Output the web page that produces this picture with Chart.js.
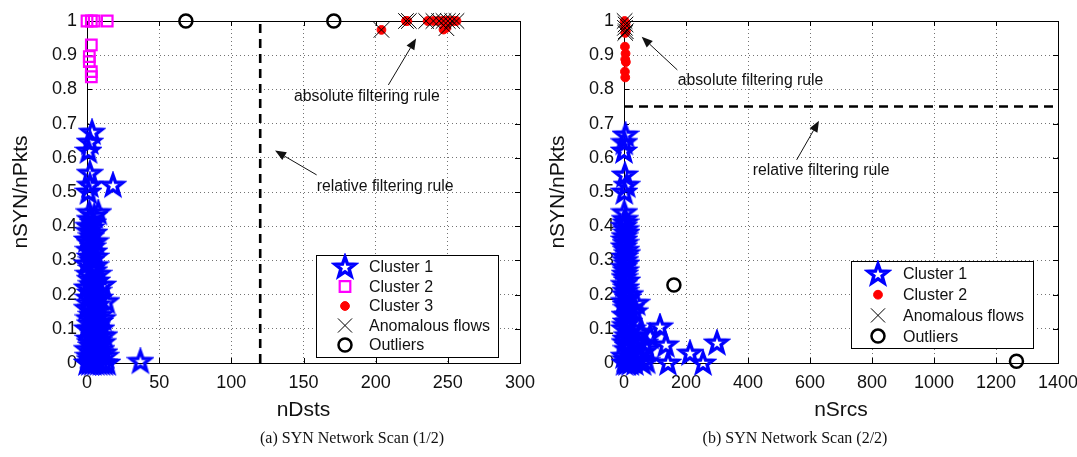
<!DOCTYPE html>
<html>
<head>
<meta charset="utf-8">
<script src="https://cdn.jsdelivr.net/npm/chart.js@4.4.0/dist/chart.umd.min.js"></script>
<style>
    body { margin: 0; background: #ffffff; }
    #wrap { position: relative; width: 1077px; height: 457px; overflow: hidden; }
    .panel { position: absolute; top: 0; height: 457px; }
    #panel-a { left: 0; width: 537px; }
    #panel-b { left: 537px; width: 540px; }
    .caption {
        position: absolute; top: 428px; line-height: 20px;
        font-family: "Liberation Serif", "Times New Roman", serif; font-size: 16px;
        color: #111; transform: translateX(-50%); white-space: nowrap;
    }
</style>
</head>
<body>
<div id="wrap">
    <div class="panel" id="panel-a"><canvas id="scan-a"></canvas></div>
    <div class="panel" id="panel-b"><canvas id="scan-b"></canvas></div>
    <div class="caption" style="left:352px">(a) SYN Network Scan (1/2)</div>
    <div class="caption" style="left:795px">(b) SYN Network Scan (2/2)</div>
</div>
<script>
// tick labels
const dstTicks = ['0', '50', '100', '150', '200', '250', '300'];
const srcTicks = ['0', '200', '400', '600', '800', '1000', '1200', '1400'];
const ratioTicks = ['0', '0.1', '0.2', '0.3', '0.4', '0.5', '0.6', '0.7', '0.8', '0.9', '1'];

const legendA = ['Cluster 1', 'Cluster 2', 'Cluster 3', 'Anomalous flows', 'Outliers'];
const legendB = ['Cluster 1', 'Cluster 2', 'Anomalous flows', 'Outliers'];

// filtering rules
const dstThreshold = 120;
const ratioThreshold = 0.75;

// (a) nDsts vs nSYN/nPkts   [x, y]
const scanACluster1 = [
    [0, 0], [2, 0], [4, 0], [6, 0], [8, 0], [10, 0], [12, 0], [14, 0], [37, 0.005],
    [2, 0.01], [6, 0.03], [10, 0.04], [12, 0.03],
    [1, 0.02], [5, 0.02], [9, 0.03], [13, 0.02],
    [0, 0.04], [3, 0.05], [7, 0.05], [11, 0.06],
    [2, 0.06], [8, 0.065], [4, 0.09], [12, 0.08],
    [1, 0.07], [5, 0.08], [9, 0.08],
    [0, 0.1], [3, 0.1], [7, 0.11], [10, 0.1],
    [2, 0.115], [6, 0.12], [9, 0.12], [3, 0.14], [7, 0.15], [11, 0.13],
    [1, 0.13], [5, 0.13], [9, 0.14],
    [0, 0.16], [3, 0.16], [7, 0.17],
    [1, 0.175], [5, 0.18], [9, 0.19], [2, 0.205], [8, 0.21], [5, 0.225],
    [1, 0.19], [5, 0.2], [13.5, 0.18], [11, 0.228],
    [0, 0.22], [3, 0.23], [7, 0.24],
    [2, 0.245], [8, 0.26], [3, 0.275], [6, 0.285],
    [1, 0.26], [5, 0.27],
    [0, 0.29], [3, 0.3], [6, 0.31],
    [2, 0.31], [5, 0.325], [2, 0.35], [6, 0.355],
    [1, 0.33], [4, 0.34],
    [0, 0.36], [3, 0.37], [5, 0.38],
    [1, 0.385], [3, 0.395], [2, 0.42], [5, 0.43],
    [1, 0.4], [4, 0.41],
    [1.6, 0.44], [7.8, 0.44],
    [1, 0.5], [2, 0.52], [18, 0.52], [2, 0.555], [1, 0.62], [2, 0.646], [3.5, 0.675]
];
const scanACluster2 = [
    [0, 1], [3, 1], [5, 1], [14, 1],
    [3, 0.93], [1.6, 0.896], [1.6, 0.881], [3, 0.852], [3, 0.837]
];
const scanACluster3 = [
    [204, 0.974], [221, 1], [222, 1], [236, 1], [240, 1], [243, 1], [246, 1],
    [248, 1], [250, 1], [252, 1], [254, 1], [256, 1], [249, 0.98], [247, 0.975]
];
const scanAAnomalous = [
    [204, 0.974], [221, 1], [223, 1], [235, 1], [240, 1], [244, 1], [247, 1],
    [250, 1], [253, 1], [256, 1], [249, 0.979]
];
const scanAOutliers = [[68.5, 1], [171, 1]];

// (b) nSrcs vs nSYN/nPkts   [x, y]
const scanBCluster1 = [
    [2, 0], [10, 0], [20, 0], [35, 0], [50, 0.01], [73, 0.005], [57, 0.03], [74, 0.04],
    [30, 0.01], [45, 0.02], [60, 0], [15, 0.06], [25, 0.08], [4, 0.01], [12, 0.05],
    [68, 0.058], [84, 0.078], [52, 0.088], [57, 0.09], [25, 0.03], [40, 0.06],
    [142, 0], [135, 0.053], [116, 0.106], [213, 0.029], [255, 0], [300, 0.059],
    [0, 0.02], [8, 0.04], [2, 0.06], [10, 0.08], [0, 0.1], [6, 0.12], [15, 0.12],
    [5, 0.07], [28, 0.1], [3, 0.11], [12, 0.14], [22, 0.16], [5, 0.17], [12, 0.19],
    [2, 0.14], [35, 0.15], [41, 0.175], [8, 0.16], [0, 0.18], [20, 0.2], [5, 0.21],
    [3, 0.2], [7, 0.22], [2, 0.25], [6, 0.27], [4, 0.3], [7, 0.33], [1, 0.36],
    [0, 0.23], [10, 0.24], [3, 0.26], [0, 0.28], [8, 0.29], [2, 0.31], [10, 0.32],
    [0, 0.34], [5, 0.35], [2, 0.37], [8, 0.38], [0, 0.4], [5, 0.41], [1, 0.44],
    [6, 0.39], [3, 0.42],
    [1, 0.5], [9, 0.52], [3, 0.55], [0, 0.62], [1, 0.645], [5, 0.667]
];
const scanBCluster2 = [
    [3, 0.925], [5, 0.905], [4, 0.888], [6, 0.88], [3, 0.852], [4, 0.835],
    [2, 1], [5, 0.99], [3, 0.98], [6, 0.97], [4, 0.965]
];
const scanBAnomalous = [[2, 1], [5, 0.99], [3, 0.98], [6, 0.97], [4, 0.965]];
const scanBOutliers = [[161, 0.228], [1266, 0.005]];

// annotation text + arrow (tail -> head), in data units
const notesA = [
    { text: 'absolute filtering rule', x: 143.4, y: 0.779, tx: 208.8, ty: 0.813, hx: 228, hy: 0.949 },
    { text: 'relative filtering rule', x: 159.1, y: 0.515, tx: 159.1, ty: 0.55, hx: 130.3, hy: 0.621 }
];
const notesB = [
    { text: 'absolute filtering rule', x: 173, y: 0.827, tx: 172, ty: 0.857, hx: 57, hy: 0.954 },
    { text: 'relative filtering rule', x: 415, y: 0.562, tx: 557, ty: 0.594, hx: 629, hy: 0.708 }
];

const FONT = '"Liberation Sans", Arial, Helvetica, sans-serif';

function pts(list) {
    return list.map(p => ({ x: p[0], y: p[1] }));
}

function makeStar() {
    let c = document.createElement('canvas');
    c.width = 28;
    c.height = 28;
    let ctx = c.getContext('2d');
    ctx.beginPath();
    for (let i = 0; i < 10; i++) {
        let r = (i % 2 == 0) ? 10.5 : 4.3;
        let a = -Math.PI / 2 + i * Math.PI / 5;
        let px = 14 + r * Math.cos(a);
        let py = 14.5 + r * Math.sin(a);
        if (i == 0) ctx.moveTo(px, py); else ctx.lineTo(px, py);
    }
    ctx.closePath();
    ctx.strokeStyle = '#0000ff';
    ctx.lineWidth = 3.4;
    ctx.lineJoin = 'miter';
    ctx.miterLimit = 3;
    ctx.stroke();
    return c;
}
const starImg = makeStar();

// axes box, inward tick marks
const boxPlugin = {
    id: 'matlabBox',
    beforeDatasetsDraw(chart) {
        let ctx = chart.ctx;
        let a = chart.chartArea;
        ctx.save();
        ctx.strokeStyle = '#000';
        ctx.lineWidth = 1;
        ctx.setLineDash([]);
        ctx.beginPath();
        chart.scales.x.ticks.forEach(t => {
            let px = Math.round(chart.scales.x.getPixelForValue(t.value)) + 0.5;
            ctx.moveTo(px, a.bottom); ctx.lineTo(px, a.bottom - 5);
            ctx.moveTo(px, a.top); ctx.lineTo(px, a.top + 5);
        });
        chart.scales.y.ticks.forEach(t => {
            let py = Math.round(chart.scales.y.getPixelForValue(t.value)) + 0.5;
            ctx.moveTo(a.left, py); ctx.lineTo(a.left + 5, py);
            ctx.moveTo(a.right, py); ctx.lineTo(a.right - 5, py);
        });
        ctx.stroke();
        ctx.strokeRect(Math.round(a.left) + 0.5, Math.round(a.top) + 0.5,
            Math.round(a.width), Math.round(a.height));
        ctx.restore();
    }
};

// arrows and text labels
const notesPlugin = {
    id: 'ruleNotes',
    afterDatasetsDraw(chart, args, opts) {
        let ctx = chart.ctx;
        let xs = chart.scales.x, ys = chart.scales.y;
        ctx.save();
        ctx.fillStyle = '#111';
        ctx.strokeStyle = '#111';
        ctx.lineWidth = 1;
        ctx.font = '15.8px ' + FONT;
        ctx.textBaseline = 'middle';
        ctx.textAlign = 'left';
        (opts.notes || []).forEach(n => {
            ctx.fillText(n.text, xs.getPixelForValue(n.x), ys.getPixelForValue(n.y));
            let x0 = xs.getPixelForValue(n.tx), y0 = ys.getPixelForValue(n.ty);
            let x1 = xs.getPixelForValue(n.hx), y1 = ys.getPixelForValue(n.hy);
            let ang = Math.atan2(y1 - y0, x1 - x0);
            let len = 11, half = 4.5;
            let bx = x1 - len * Math.cos(ang), by = y1 - len * Math.sin(ang);
            ctx.beginPath();
            ctx.moveTo(x0, y0);
            ctx.lineTo(bx, by);
            ctx.stroke();
            ctx.beginPath();
            ctx.moveTo(x1, y1);
            ctx.lineTo(bx + half * Math.sin(ang), by - half * Math.cos(ang));
            ctx.lineTo(bx - half * Math.sin(ang), by + half * Math.cos(ang));
            ctx.closePath();
            ctx.fill();
        });
        ctx.restore();
    }
};

// legend box inside the plot
const legendPlugin = {
    id: 'boxLegend',
    afterDraw(chart, args, opts) {
        let ctx = chart.ctx;
        ctx.save();
        ctx.fillStyle = '#fff';
        ctx.fillRect(opts.left, opts.top, opts.width, opts.height);
        ctx.strokeStyle = '#000';
        ctx.lineWidth = 1;
        ctx.setLineDash([]);
        ctx.strokeRect(opts.left + 0.5, opts.top + 0.5, opts.width, opts.height);
        ctx.font = '16px ' + FONT;
        ctx.textBaseline = 'middle';
        ctx.textAlign = 'left';
        opts.items.forEach((di, i) => {
            let ds = chart.data.datasets[di];
            let y = opts.top + opts.first + i * opts.step;
            let mx = opts.left + opts.markerX;
            ctx.save();
            ctx.strokeStyle = ds.borderColor;
            ctx.fillStyle = ds.backgroundColor;
            ctx.lineWidth = ds.borderWidth;
            Chart.helpers.drawPoint(ctx, {
                pointStyle: ds.pointStyle,
                radius: ds.legendRadius || ds.pointRadius,
                borderWidth: ds.borderWidth,
                rotation: 0
            }, mx, y);
            ctx.restore();
            ctx.fillStyle = '#111';
            ctx.fillText(ds.label, opts.left + opts.textX, y + 1);
        });
        ctx.restore();
    }
};

function scatterSet(label, data, style, order) {
    return Object.assign({
        label: label,
        data: pts(data),
        showLine: false,
        clip: false,
        order: order
    }, style);
}

function starStyle() {
    return { pointStyle: starImg, pointRadius: 10, borderColor: '#0000ff', backgroundColor: '#0000ff', borderWidth: 0 };
}
function squareStyle() {
    return { pointStyle: 'rect', pointRadius: 7.5, borderColor: '#ff00ff', backgroundColor: 'rgba(0,0,0,0)', borderWidth: 2.2 };
}
function dotStyle() {
    return { pointStyle: 'circle', pointRadius: 4.4, borderColor: '#ff0000', backgroundColor: '#ff0000', borderWidth: 1 };
}
function crossStyle() {
    return { pointStyle: 'crossRot', pointRadius: 11, borderColor: '#000', backgroundColor: '#000', borderWidth: 1, legendRadius: 10 };
}
function ringStyle() {
    return { pointStyle: 'circle', pointRadius: 6.5, borderColor: '#000', backgroundColor: 'rgba(0,0,0,0)', borderWidth: 2.5 };
}

function ruleLine(data) {
    return {
        label: 'rule',
        data: pts(data),
        showLine: true,
        pointRadius: 0,
        borderColor: '#000',
        borderWidth: 2.6,
        borderDash: [9, 6],
        clip: false,
        order: 6
    };
}

function makeScales(xTitle, xMax, xStep, xLabels) {
    let gridOpts = { color: 'rgba(0,0,0,0.55)', lineWidth: 1, drawTicks: false, borderDash: [1, 3] };
    let borderOpts = { display: true, color: '#000', width: 1, dash: [1, 3] };
    return {
        x: {
            type: 'linear', min: 0, max: xMax,
            ticks: {
                stepSize: xStep, autoSkip: false, maxRotation: 0, padding: 9, color: '#111',
                font: { family: FONT, size: 18 },
                callback: (v, i) => xLabels[i]
            },
            grid: gridOpts,
            border: borderOpts,
            title: { display: true, text: xTitle, color: '#111', font: { family: FONT, size: 21 }, padding: { top: 0, bottom: 34 } },
            afterFit: s => { s.height = 94; s.paddingLeft = 0; s.paddingRight = 0; }
        },
        y: {
            type: 'linear', min: 0, max: 1,
            ticks: {
                stepSize: 0.1, autoSkip: false, padding: 10, color: '#111',
                font: { family: FONT, size: 18 },
                callback: (v, i) => ratioTicks[i]
            },
            grid: gridOpts,
            border: borderOpts,
            title: { display: true, text: 'nSYN/nPkts', color: '#111', font: { family: FONT, size: 21 }, padding: { top: 9, bottom: 0 } },
            afterFit: s => { s.width = 87; s.paddingTop = 0; s.paddingBottom = 0; }
        }
    };
}

function makeChart(canvas, datasets, scales, padRight, notes, legend) {
    return new Chart(canvas, {
        type: 'scatter',
        data: { datasets: datasets },
        options: {
            responsive: true,
            maintainAspectRatio: false,
            animation: false,
            events: [],
            layout: { padding: { top: 21, right: padRight, left: 0, bottom: 0 } },
            scales: scales,
            plugins: {
                legend: { display: false },
                tooltip: { enabled: false },
                ruleNotes: { notes: notes },
                boxLegend: legend
            }
        },
        plugins: [boxPlugin, notesPlugin, legendPlugin]
    });
}

let chartA = makeChart(
    document.getElementById('scan-a'),
    [
        scatterSet(legendA[0], scanACluster1, starStyle(), 4),
        scatterSet(legendA[1], scanACluster2, squareStyle(), 3),
        scatterSet(legendA[2], scanACluster3, dotStyle(), 2),
        scatterSet(legendA[3], scanAAnomalous, crossStyle(), 1),
        scatterSet(legendA[4], scanAOutliers, ringStyle(), 0),
        ruleLine([[dstThreshold, 0], [dstThreshold, 1]])
    ],
    makeScales('nDsts', 300, 50, dstTicks),
    17,
    notesA,
    { left: 316, top: 255, width: 182, height: 102, first: 12, step: 19.5, markerX: 29, textX: 53, items: [0, 1, 2, 3, 4] }
);

let chartB = makeChart(
    document.getElementById('scan-b'),
    [
        scatterSet(legendB[0], scanBCluster1, starStyle(), 4),
        scatterSet(legendB[1], scanBCluster2, dotStyle(), 2),
        scatterSet(legendB[2], scanBAnomalous, crossStyle(), 1),
        scatterSet(legendB[3], scanBOutliers, ringStyle(), 0),
        ruleLine([[0, ratioThreshold], [1400, ratioThreshold]])
    ],
    makeScales('nSrcs', 1400, 200, srcTicks),
    19,
    notesB,
    { left: 314, top: 261, width: 182, height: 87, first: 13, step: 20.7, markerX: 27, textX: 52, items: [0, 1, 2, 3] }
);
</script>
</body>
</html>
